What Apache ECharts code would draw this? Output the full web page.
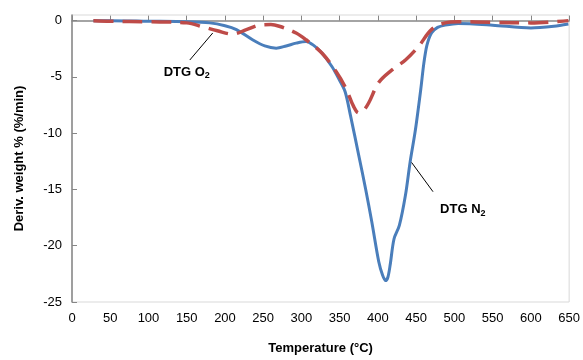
<!DOCTYPE html>
<html>
<head>
<meta charset="utf-8">
<script src="https://cdn.jsdelivr.net/npm/echarts@6/dist/echarts.min.js"></script>
<style>
  html, body { margin: 0; padding: 0; background: #fff; }
  #main { width: 583px; height: 360px; }
</style>
</head>
<body>
<div id="main"></div>
<script>
// DTG under nitrogen (solid blue)
var tempN2 = [28, 50, 100, 150, 180, 200, 215, 236, 252, 267, 280, 293, 306, 316, 327, 340, 349, 357, 364, 375, 384, 392, 401, 406, 410, 413, 416, 421, 428, 436, 442, 449, 456, 460, 464, 470, 478, 488, 505, 550, 600, 630, 649];
var derivN2 = [0, 0, -0.05, -0.1, -0.2, -0.45, -0.8, -1.7, -2.25, -2.45, -2.25, -2.0, -1.85, -2.2, -2.9, -4.1, -5.2, -6.3, -8.4, -12.0, -15.0, -17.9, -21.4, -22.6, -23.1, -22.8, -21.7, -19.4, -18.2, -15.5, -12.6, -9.7, -6.1, -3.8, -2.2, -1.1, -0.6, -0.4, -0.25, -0.4, -0.65, -0.5, -0.3];

// DTG under oxygen (dashed red)
var tempO2 = [28, 50, 100, 150, 171, 190, 210, 228, 245, 260, 271, 293, 306, 327, 345, 358, 368, 375, 381, 388, 401, 418, 436, 453, 470, 488, 505, 550, 600, 649];
var derivO2 = [0, -0.05, -0.1, -0.2, -0.55, -0.9, -1.2, -0.8, -0.4, -0.35, -0.5, -1.1, -1.7, -2.9, -4.5, -6.0, -7.6, -8.2, -8.0, -7.3, -5.5, -4.4, -3.5, -2.3, -0.8, -0.2, -0.1, -0.15, -0.2, 0.0];

var xTicks = [0, 50, 100, 150, 200, 250, 300, 350, 400, 450, 500, 550, 600, 650];
var yTicks = [-25, -20, -15, -10, -5, 0];

function pairs(xs, ys) {
  return xs.map(function (x, i) { return [x, ys[i]]; });
}

var font = 'Liberation Sans';
var labelRich = {
  b: { fontFamily: font, fontSize: 13, fontWeight: 'bold', color: '#000' },
  s: { fontFamily: font, fontSize: 9, fontWeight: 'bold', color: '#000', padding: [7, 0, 0, 0] }
};

var myChart = echarts.init(document.getElementById('main'), null, { renderer: 'canvas' });

var option = {
  animation: false,
  grid: {
    left: 72, right: 12, top: 15, bottom: 56,
    show: true, borderColor: '#d9d9d9', borderWidth: 1
  },
  xAxis: {
    type: 'value',
    min: 0, max: 650, interval: 50,
    name: 'Temperature (°C)',
    nameLocation: 'middle',
    nameGap: 40,
    nameTextStyle: { fontFamily: font, fontSize: 13, fontWeight: 'bold', color: '#000' },
    axisLine: { lineStyle: { color: '#868686', width: 1.5 } },
    axisTick: { inside: true, length: 5, lineStyle: { color: '#868686' }, customValues: xTicks },
    axisLabel: { fontFamily: font, fontSize: 13, color: '#000', margin: 10, customValues: xTicks },
    splitLine: { show: false }
  },
  yAxis: {
    type: 'value',
    min: -25, max: 0.5, interval: 5,
    name: 'Deriv. weight % (%/min)',
    nameLocation: 'middle',
    nameGap: 46,
    nameTextStyle: { fontFamily: font, fontSize: 13, fontWeight: 'bold', color: '#000' },
    axisLine: { show: true, lineStyle: { color: '#868686', width: 1.5 } },
    axisTick: { show: true, inside: true, length: 5, lineStyle: { color: '#868686' }, customValues: yTicks },
    axisLabel: { fontFamily: font, fontSize: 13, color: '#000', margin: 10, customValues: yTicks },
    splitLine: { show: false }
  },
  series: [
    {
      name: 'DTG N2',
      type: 'line',
      data: pairs(tempN2, derivN2),
      smooth: 0.3,
      showSymbol: false,
      lineStyle: { color: '#4a7ebb', width: 3 },
      z: 3,
      markLine: {
        silent: true,
        symbol: 'none',
        label: { show: false },
        lineStyle: { color: '#000', width: 1, type: 'solid' },
        data: [[{ coord: [444, -12.6] }, { coord: [472, -15.2] }]]
      },
      markPoint: {
        symbol: 'circle', symbolSize: 0,
        label: { show: true, position: 'inside', formatter: '{b|DTG N}{s|2}', rich: labelRich },
        data: [{ coord: [511, -16.8] }]
      }
    },
    {
      name: 'DTG O2',
      type: 'line',
      data: pairs(tempO2, derivO2),
      smooth: 0.35,
      showSymbol: false,
      lineStyle: { color: '#be4b48', width: 3.5, type: [20, 9] },
      z: 4,
      markLine: {
        silent: true,
        symbol: 'none',
        label: { show: false },
        lineStyle: { color: '#000', width: 1, type: 'solid' },
        data: [[{ coord: [154, -3.5] }, { coord: [184, -1.1] }]]
      },
      markPoint: {
        symbol: 'circle', symbolSize: 0,
        label: { show: true, position: 'inside', formatter: '{b|DTG O}{s|2}', rich: labelRich },
        data: [{ coord: [150, -4.6] }]
      }
    }
  ]
};

if (option && typeof option === 'object') {
  myChart.setOption(option);
}
window.addEventListener('resize', myChart.resize);
</script>
</body>
</html>
